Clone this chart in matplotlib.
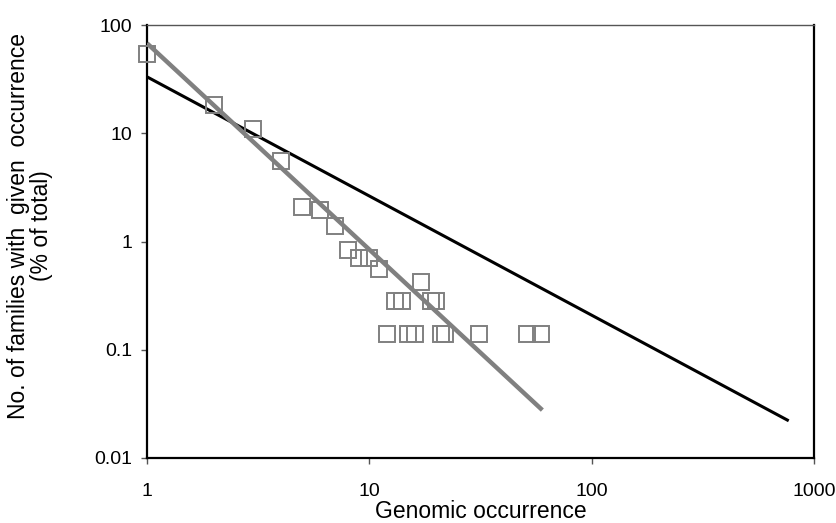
import numpy as np
import matplotlib
matplotlib.use("Agg")
import matplotlib.pyplot as plt
from matplotlib.ticker import FixedLocator, NullLocator, FixedFormatter

plt.rcParams['font.family'] = ['Liberation Sans', 'DejaVu Sans']

# observed family occurrence (% of total)
occurrence = [1, 2, 3, 4, 5, 6, 7, 8, 9, 10, 11, 12, 13, 14, 15, 16,
              17, 19, 20, 21, 22, 31, 51, 59]
pct_families = [53.8, 18.2, 10.9, 5.6, 2.1, 1.96, 1.4, 0.84, 0.70, 0.70, 0.56, 0.14,
                0.28, 0.28, 0.14, 0.14, 0.42, 0.28, 0.28, 0.14, 0.14, 0.14, 0.14, 0.14]

# fitted power-law lines (endpoints)
gray_fit_x = [1, 60]
gray_fit_y = [67.8, 0.0277]
black_fit_x = [1, 759]
black_fit_y = [33.2, 0.0224]

x_ticks = [1, 10, 100, 1000]
x_labels = ['1', '10', '100', '1000']
y_ticks = [0.01, 0.1, 1, 10, 100]
y_labels = ['0.01', '0.1', '1', '10', '100']

fig = plt.figure(figsize=(8.37, 5.23), dpi=100)
ax = fig.add_axes([147 / 837, 1 - 458 / 523, 667 / 837, 433 / 523])

ax.plot(black_fit_x, black_fit_y, color='black', lw=2.2, zorder=2)
ax.plot(occurrence, pct_families, linestyle='none', marker='s', markersize=11,
        markerfacecolor='none', markeredgecolor='#808080', markeredgewidth=1.4,
        zorder=3, clip_on=False)
ax.plot(gray_fit_x, gray_fit_y, color='#808080', lw=3.2, zorder=4,
        solid_capstyle='butt')

ax.set_xscale('log')
ax.set_yscale('log')
ax.set_xlim(1, 1000)
ax.set_ylim(0.01, 100)

ax.xaxis.set_major_locator(FixedLocator(x_ticks))
ax.xaxis.set_major_formatter(FixedFormatter(x_labels))
ax.yaxis.set_major_locator(FixedLocator(y_ticks))
ax.yaxis.set_major_formatter(FixedFormatter(y_labels))
ax.xaxis.set_minor_locator(NullLocator())
ax.yaxis.set_minor_locator(NullLocator())

ax.tick_params(axis='x', direction='out', length=4, width=1, pad=14,
               labelsize=14, color='#555555')
ax.tick_params(axis='y', direction='out', length=4.5, width=1, pad=6,
               labelsize=14, color='#555555')

for side in ['left', 'bottom', 'right']:
    ax.spines[side].set_linewidth(1.6)
    ax.spines[side].set_color('black')
ax.spines['top'].set_linewidth(1.0)
ax.spines['top'].set_color('#555555')

ax.set_xlabel('Genomic occurrence', fontsize=16.5, labelpad=0)
ax.set_ylabel('No. of families with  given  occurrence\n(% of total)', fontsize=16.5,
              labelpad=30, linespacing=1.0)
ax.yaxis.label.set_y(0.536)

fig.savefig('out.png', dpi=100)
